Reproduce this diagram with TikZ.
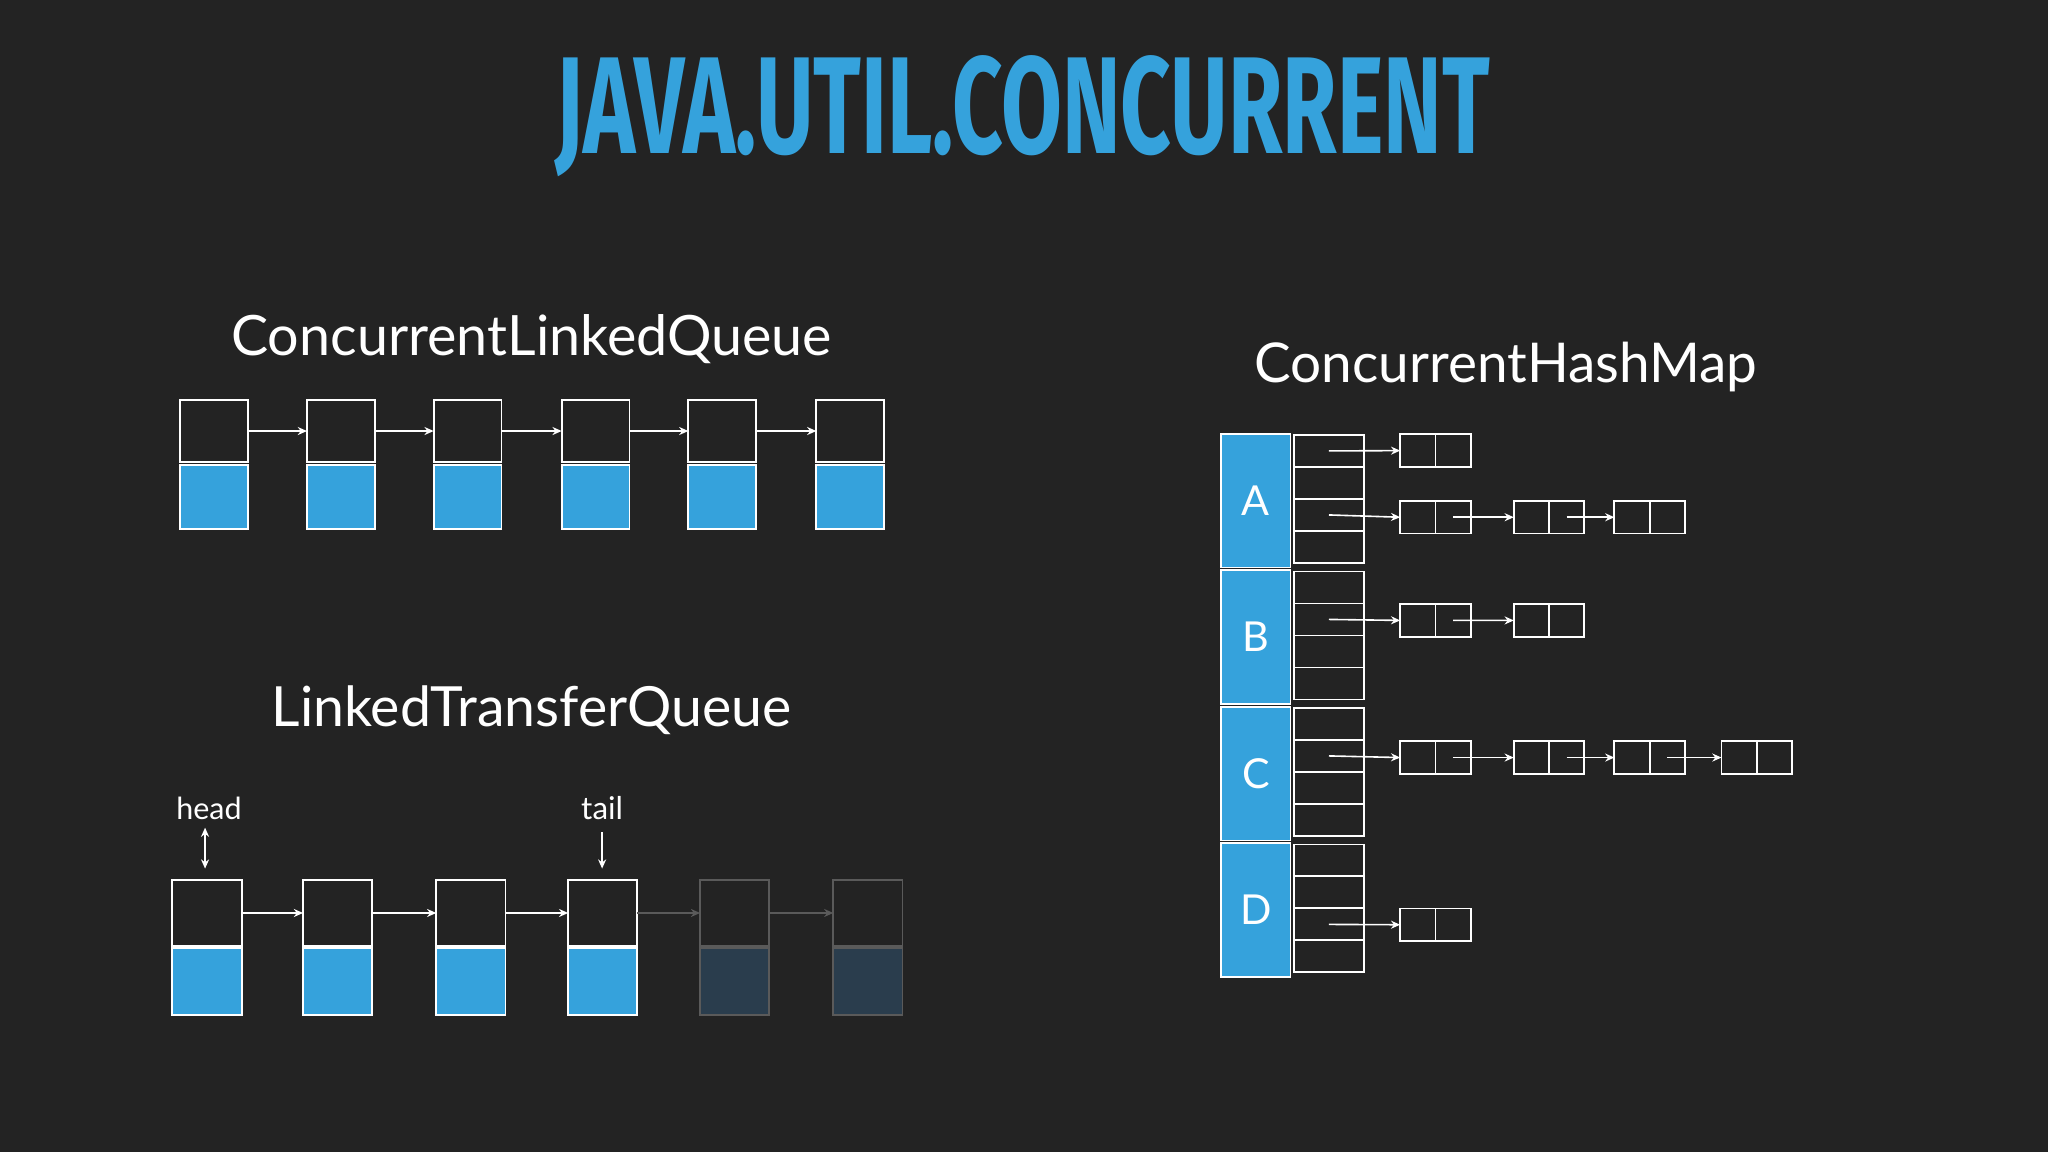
\documentclass[tikz,border=0pt]{standalone}
\usepackage{fontspec}
\setmainfont{Lato}
\newfontfamily\titlefont{Fira Sans}
\usetikzlibrary{calc,arrows.meta}
\definecolor{bg}{HTML}{232323}
\definecolor{jblue}{HTML}{35A2DC}
\definecolor{fadeblue}{HTML}{2A3D4D}
\definecolor{fadeline}{HTML}{5A5A5A}
\begin{document}
\begin{tikzpicture}[x=0.02cm,y=-0.02cm,
  every node/.style={inner sep=0pt,outer sep=0pt},
  topc/.style={draw=white,line width=0.8pt,fill=bg,minimum width=1.04cm,minimum height=0.96cm,anchor=north west},
  bluc/.style={draw=white,line width=0.8pt,fill=jblue,minimum width=1.04cm,minimum height=0.98cm,anchor=north west},
  ltop/.style={topc,minimum width=1.06cm,minimum height=1.0cm},
  lblu/.style={bluc,minimum width=1.06cm,minimum height=1.02cm},
  arr/.style={white,line width=0.7pt,-{Stealth[length=4pt,width=3.5pt]}},
  farr/.style={arr,draw=fadeline},
  bucket/.style={draw=white,line width=0.8pt,minimum width=1.06cm,minimum height=0.49cm,anchor=north west},
  entry/.style={draw=white,line width=0.8pt,minimum width=1.08cm,minimum height=0.5cm},
  lbl/.style={text=white}]
\fill[bg] (0,0) rectangle (1568,882);
\useasboundingbox (0,0) rectangle (1568,882);
% title
\node[text=jblue,anchor=south] (title) at (783,135) {\resizebox{14.3cm}{1.5cm}{\titlefont\bfseries JAVA.UTIL.CONCURRENT}};
% CLQ
\node[lbl] (clqt) at (407,260) {\resizebox{9.2cm}{!}{ConcurrentLinkedQueue}};
\foreach \i/\x in {1/138,2/235,3/332,4/430,5/527,6/625}{
  \node[topc] (q\i) at (\x,306) {};
  \node[bluc] (qb\i) at (\x,356) {};
}
\foreach \i/\j in {1/2,2/3,3/4,4/5,5/6} \draw[arr] (q\i.east) -- (q\j.west);
% LTQ
\node[lbl] (ltqt) at (407,544) {\resizebox{7.96cm}{!}{LinkedTransferQueue}};
\foreach \i/\x in {1/132,2/232,3/334,4/435}{
  \node[ltop] (l\i) at (\x,674) {};
  \node[lblu] (lb\i) at (\x,726) {};
}
\foreach \i/\x in {5/536,6/638}{
  \node[ltop,draw=fadeline] (l\i) at (\x,674) {};
  \node[lblu,draw=fadeline,fill=fadeblue] (lb\i) at (\x,726) {};
}
\foreach \i/\j in {1/2,2/3,3/4} \draw[arr] (l\i.east) -- (l\j.west);
\foreach \i/\j in {4/5,5/6} \draw[farr] (l\i.east) -- (l\j.west);
\node[lbl] (head) at (160,619) {\resizebox{1.0cm}{!}{head}};
\node[lbl] (tail) at (461,619) {\resizebox{0.64cm}{!}{tail}};
\coordinate (hp) at (157,665);
\coordinate (tp) at (461,665);
\draw[arr] (head.south) ++(-3,6) coordinate (hs) ; \draw[arr] (157,637) -- (hp);
\draw[arr] (461,637) -- (tp);
% HashMap
\node[lbl] (hmt) at (1153,281) {\resizebox{7.7cm}{!}{ConcurrentHashMap}};
\foreach \s/\L [count=\k from 0] in {A/A,B/B,C/C,D/D}{
  \node[draw=white,line width=0.8pt,fill=jblue,minimum width=1.06cm,minimum height=2.05cm,anchor=north west] (seg\s) at (935,332+104.5*\k) {};
  \node[lbl,font=\fontsize{18}{20}\selectfont] at (seg\s.center) {\L};
  \foreach \c in {1,2,3,4}{
    \node[bucket] (b\s\c) at (991,333+104.5*\k+24.5*\c-24.5) {};
  }
}
% entries
\newcommand\entry[3]{\node[entry,anchor=west] (#1) at (#2,#3) {}; \draw[white,line width=0.8pt] (#1.north) -- (#1.south);}
\entry{eA1}{1072}{345}
\entry{eA31}{1072}{396}\entry{eA32}{1159}{396}\entry{eA33}{1236}{396}
\entry{eB1}{1072}{475}\entry{eB2}{1159}{475}
\entry{eC1}{1072}{580}\entry{eC2}{1159}{580}\entry{eC3}{1236}{580}\entry{eC4}{1318}{580}
\entry{eD1}{1072}{708}
\draw[arr] ($(bA1.center)+(0,0)$) -- (eA1.west);
\draw[arr] (bA3.center) -- (eA31.west);
\draw[arr] ($(eA31.center)!0.5!(eA31.east)$) -- (eA32.west);
\draw[arr] ($(eA32.center)!0.5!(eA32.east)$) -- (eA33.west);
\draw[arr] (bB2.center) -- (eB1.west);
\draw[arr] ($(eB1.center)!0.5!(eB1.east)$) -- (eB2.west);
\draw[arr] (bC2.center) -- (eC1.west);
\draw[arr] ($(eC1.center)!0.5!(eC1.east)$) -- (eC2.west);
\draw[arr] ($(eC2.center)!0.5!(eC2.east)$) -- (eC3.west);
\draw[arr] ($(eC3.center)!0.5!(eC3.east)$) -- (eC4.west);
\draw[arr] (bD3.center) -- (eD1.west);
\end{tikzpicture}
\end{document}
